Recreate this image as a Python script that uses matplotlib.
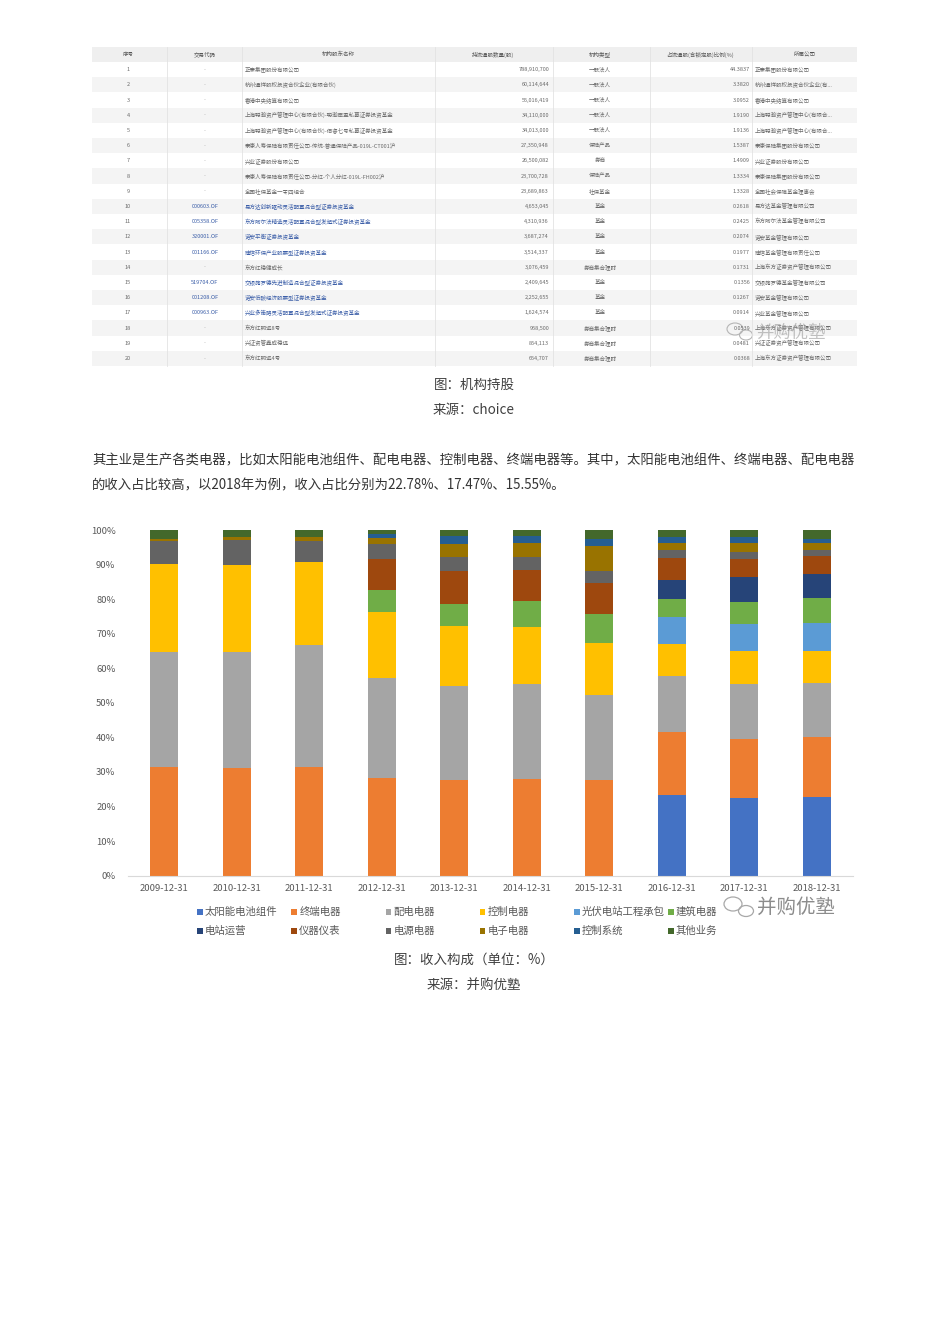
import matplotlib
matplotlib.use('Agg')
import matplotlib.pyplot as plt
from matplotlib.patches import Rectangle, Ellipse
import numpy as np

plt.rcParams['font.family'] = ['Noto Sans CJK SC', 'DejaVu Sans']

# ---- institutional holders table (top screenshot) ----
table_headers = ['序号', '交易代码', '机构股东名称', '持流通股数量(股)', '机构类型',
                 '占流通股(含锁定股)比例(%)', '所属公司']
ranks = list(range(1, 21))
codes = ['-'] * 9 + ['000603.OF', '005358.OF', '320001.OF', '001166.OF', '-',
                     '519704.OF', '001208.OF', '000963.OF', '-', '-', '-']
holders = ['正泰集团股份有限公司',
           '杭州通祥股权投资合伙企业(有限合伙)',
           '香港中央结算有限公司',
           '上海聪瀚资产管理中心(有限合伙)-聪瀚臣盈私募证券投资基金',
           '上海聪瀚资产管理中心(有限合伙)-佰睿七号私募证券投资基金',
           '泰康人寿保险有限责任公司-传统-普通保险产品-019L-CT001沪',
           '兴业证券股份有限公司',
           '泰康人寿保险有限责任公司-分红-个人分红-019L-FH002沪',
           '全国社保基金一零四组合',
           '易方达创新驱动灵活配置混合型证券投资基金',
           '东方阿尔法精选灵活配置混合型发起式证券投资基金',
           '诺安平衡证券投资基金',
           '建信环保产业股票型证券投资基金',
           '东方红稳健成长',
           '交银施罗德先进制造混合型证券投资基金',
           '诺安低碳经济股票型证券投资基金',
           '兴业多策略灵活配置混合型发起式证券投资基金',
           '东方红明远8号',
           '兴证资管鑫成稳远',
           '东方红明远4号']
shares = ['788,910,700', '60,114,644', '55,016,419', '34,110,000', '34,013,000',
          '27,350,948', '26,500,082', '23,700,728', '23,689,863', '4,653,045',
          '4,310,936', '3,687,274', '3,514,337', '3,076,459', '2,409,645',
          '2,252,655', '1,624,574', '958,500', '854,113', '654,707']
holder_types = ['一般法人'] * 5 + ['保险产品', '券商', '保险产品', '社保基金',
                                  '基金', '基金', '基金', '基金', '券商集合理财',
                                  '基金', '基金', '基金', '券商集合理财',
                                  '券商集合理财', '券商集合理财']
ratios = ['44.3837', '3.3820', '3.0952', '1.9190', '1.9136', '1.5387', '1.4909',
          '1.3334', '1.3328', '0.2618', '0.2425', '0.2074', '0.1977', '0.1731',
          '0.1356', '0.1267', '0.0914', '0.0539', '0.0481', '0.0368']
companies = ['正泰集团股份有限公司', '杭州通祥股权投资合伙企业(有...', '香港中央结算有限公司',
             '上海聪瀚资产管理中心(有限合...', '上海聪瀚资产管理中心(有限合...',
             '泰康保险集团股份有限公司', '兴业证券股份有限公司', '泰康保险集团股份有限公司',
             '全国社会保障基金理事会', '易方达基金管理有限公司', '东方阿尔法基金管理有限公司',
             '诺安基金管理有限公司', '建信基金管理有限责任公司', '上海东方证券资产管理有限公司',
             '交银施罗德基金管理有限公司', '诺安基金管理有限公司', '兴业基金管理有限公司',
             '上海东方证券资产管理有限公司', '兴证证券资产管理有限公司',
             '上海东方证券资产管理有限公司']

# ---- revenue composition chart data (% of revenue) ----
dates = ['2009-12-31', '2010-12-31', '2011-12-31', '2012-12-31', '2013-12-31',
         '2014-12-31', '2015-12-31', '2016-12-31', '2017-12-31', '2018-12-31']
segments = ['太阳能电池组件', '终端电器', '配电电器', '控制电器', '光伏电站工程承包',
            '建筑电器', '电站运营', '仪器仪表', '电源电器', '电子电器', '控制系统', '其他业务']
solar_modules = [0, 0, 0, 0, 0, 0, 0, 23.3, 22.5, 22.78]
terminal = [31.5, 31.2, 31.5, 28.4, 27.7, 28.0, 27.7, 18.2, 17.1, 17.47]
distribution = [33.3, 33.6, 35.1, 28.8, 27.3, 27.5, 24.7, 16.3, 15.9, 15.55]
control = [25.4, 25.1, 24.0, 19.2, 17.3, 16.4, 15.0, 9.1, 9.6, 9.3]
pv_epc = [0, 0, 0, 0, 0, 0, 0, 8.0, 7.7, 7.9]
building = [0, 0, 0, 6.2, 6.3, 7.5, 8.2, 5.2, 6.4, 7.3]
station_ops = [0, 0, 0, 0, 0, 0, 0, 5.4, 7.2, 7.1]
instruments = [0, 0, 0, 9.0, 9.5, 9.0, 9.0, 6.5, 5.2, 5.1]
power_supply = [6.6, 7.2, 6.2, 4.4, 4.2, 3.7, 3.5, 2.2, 2.1, 1.7]
electronic = [0.6, 0.8, 1.1, 1.6, 3.7, 4.1, 7.4, 2.1, 2.6, 2.0]
control_sys = [0, 0, 0, 1.2, 2.2, 2.1, 1.9, 1.6, 1.6, 1.3]
other = [2.6, 2.1, 2.1, 1.2, 1.8, 1.7, 2.6, 2.1, 2.1, 2.5]

series = [solar_modules, terminal, distribution, control, pv_epc, building,
          station_ops, instruments, power_supply, electronic, control_sys, other]
colors = ['#4472C4', '#ED7D31', '#A5A5A5', '#FFC000', '#5B9BD5', '#70AD47',
          '#264478', '#9E480E', '#636363', '#997300', '#255E91', '#43682B']

W, H = 950, 1343
fig = plt.figure(figsize=(W / 100, H / 100), dpi=100)
fig.patch.set_facecolor('white')

# page layer in pixel coordinates
bg = fig.add_axes([0, 0, 1, 1])
bg.set_xlim(0, W)
bg.set_ylim(H, 0)
bg.axis('off')

# ---- table ----
tx0, tx1 = 92, 857
col_edges = [92, 167, 242, 435, 553, 650, 752, 857]
head_top, head_bot = 47, 62
row_h = 15.2
grey_txt = '#6a6a6a'
link_txt = '#3b5ea8'

bg.add_patch(Rectangle((tx0, head_top), tx1 - tx0, head_bot - head_top,
                       facecolor='#efefef', edgecolor='none'))
for i in range(len(ranks)):
    y0 = head_bot + i * row_h
    if i % 2 == 1:
        bg.add_patch(Rectangle((tx0, y0), tx1 - tx0, row_h,
                               facecolor='#f4f4f4', edgecolor='none'))
table_bot = head_bot + len(ranks) * row_h
for xe in col_edges[1:-1]:
    bg.plot([xe, xe], [head_top, table_bot], color='#e3e3e3', lw=0.6)

head_x = [128, 205, 338, 493, 600, 700, 805]
for hx, h in zip(head_x, table_headers):
    bg.text(hx, (head_top + head_bot) / 2, h, fontsize=4.0, color='#555555',
            ha='center', va='center')

fs_t = 4.0
for i in range(len(ranks)):
    yc = head_bot + (i + 0.5) * row_h
    fund = codes[i] != '-'
    bg.text(128, yc, str(ranks[i]), fontsize=fs_t, color=grey_txt, ha='center', va='center')
    bg.text(205, yc, codes[i], fontsize=fs_t, color=link_txt if fund else '#aaaaaa',
            ha='center', va='center')
    bg.text(245, yc, holders[i], fontsize=fs_t, color=link_txt if fund else grey_txt,
            ha='left', va='center')
    bg.text(549, yc, shares[i], fontsize=fs_t, color=grey_txt, ha='right', va='center')
    bg.text(600, yc, holder_types[i], fontsize=fs_t, color=grey_txt, ha='center', va='center')
    bg.text(750, yc, ratios[i], fontsize=fs_t, color=grey_txt, ha='right', va='center')
    bg.text(755, yc, companies[i], fontsize=fs_t, color=grey_txt, ha='left', va='center')

# watermark over the table (it overlaps the cells in the original screenshot too)
bg.add_patch(Ellipse((735, 329), 16, 12, fill=False, edgecolor='#b5b5b5', lw=0.8))
bg.add_patch(Ellipse((746, 335), 13, 10, fill=False, edgecolor='#b5b5b5', lw=0.8))
bg.text(756, 333, '并购优塾', fontsize=12.5, color='#9a9a9a', alpha=0.6,
        ha='left', va='center')

# ---- captions and paragraph ----
cap_col = '#404040'
bg.text(474, 385, '图：机构持股', fontsize=9.7, color=cap_col, ha='center', va='center')
bg.text(474, 410, '来源：choice', fontsize=9.7, color=cap_col, ha='center', va='center')
bg.text(92, 460, '其主业是生产各类电器，比如太阳能电池组件、配电电器、控制电器、终端电器等。'
        '其中，太阳能电池组件、终端电器、配电电器', fontsize=9.6, color='#333333',
        ha='left', va='center')
bg.text(92, 485, '的收入占比较高，以2018年为例，收入占比分别为22.78%、17.47%、15.55%。',
        fontsize=9.6, color='#333333', ha='left', va='center')
bg.text(474, 960, '图：收入构成（单位：%）', fontsize=9.7, color=cap_col, ha='center', va='center')
bg.text(474, 985, '来源：并购优塾', fontsize=9.7, color=cap_col, ha='center', va='center')

# ---- stacked bar chart ----
ax = fig.add_axes([128 / W, (H - 875.7) / H, 725 / W, 345.7 / H])
x = np.arange(len(dates))
bottom = np.zeros(len(dates))
for name, vals, c in zip(segments, series, colors):
    vals = np.array(vals, dtype=float)
    ax.bar(x, vals, width=0.39, bottom=bottom, color=c, label=name, linewidth=0)
    bottom += vals

ax.set_xlim(-0.5, len(dates) - 0.5)
ax.set_ylim(0, 100)
ax.set_yticks(np.arange(0, 101, 10))
ax.set_yticklabels([f'{v}%' for v in range(0, 101, 10)])
ax.set_xticks(x)
ax.set_xticklabels(dates)
ax.tick_params(length=0, labelsize=6.8, colors='#595959')
ax.tick_params(axis='x', pad=6)
ax.tick_params(axis='y', pad=9)
for s in ['top', 'right', 'left']:
    ax.spines[s].set_visible(False)
ax.spines['bottom'].set_color('#d9d9d9')
ax.spines['bottom'].set_linewidth(0.8)

# legend: two rows of six, uniform column spacing like the Excel original
for k, (name, c) in enumerate(zip(segments, colors)):
    col, row = k % 6, k // 6
    mx = 200 + 94.2 * col
    my = 912 + 19 * row
    bg.add_patch(Rectangle((mx - 2.8, my - 2.8), 5.6, 5.6, facecolor=c, edgecolor='none'))
    bg.text(mx + 5, my, name, fontsize=7.5, color='#595959', ha='left', va='center')

# watermark next to the legend
bg.add_patch(Ellipse((733, 904), 18, 14, fill=False, edgecolor='#a8a8a8', lw=0.9))
bg.add_patch(Ellipse((746, 911), 15, 11, fill=False, edgecolor='#a8a8a8', lw=0.9))
bg.text(757, 907, '并购优塾', fontsize=14, color='#8c8c8c', ha='left', va='center')

fig.savefig('out.png', dpi=100)
